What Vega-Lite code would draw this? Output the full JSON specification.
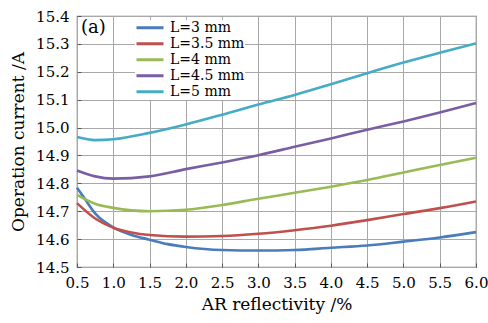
{
  "$schema": "https://vega.github.io/schema/vega-lite/v6.json",
  "width": 399,
  "height": 251,
  "autosize": {"type": "none"},
  "padding": {"left": 77, "top": 16, "right": 12, "bottom": 56},
  "background": "white",
  "config": {
    "view": {"stroke": "#7a7a7a", "strokeWidth": 1.2},
    "font": "DejaVu Serif",
    "axis": {
      "domain": false,
      "grid": true,
      "gridColor": "#a8a8a8",
      "gridWidth": 1,
      "tickColor": "#555555",
      "tickSize": -4,
      "tickCount": 30,
      "labelOverlap": false,
      "labelFlush": false,
      "labelFont": "DejaVu Serif",
      "labelFontSize": 15,
      "labelColor": "#000000",
      "titleFont": "DejaVu Serif",
      "titleFontSize": 17,
      "titleFontWeight": "normal",
      "titleColor": "#000000"
    },
    "legend": {
      "labelFont": "DejaVu Serif",
      "labelFontSize": 14,
      "labelColor": "#000000"
    }
  },
  "datasets": {
    "curves": [
      {"r": 0.5, "I": 14.784, "L": "L=3 mm"},
      {"r": 0.6, "I": 14.747, "L": "L=3 mm"},
      {"r": 0.75, "I": 14.692, "L": "L=3 mm"},
      {"r": 1.0, "I": 14.642, "L": "L=3 mm"},
      {"r": 1.25, "I": 14.615, "L": "L=3 mm"},
      {"r": 1.5, "I": 14.598, "L": "L=3 mm"},
      {"r": 1.75, "I": 14.582, "L": "L=3 mm"},
      {"r": 2.0, "I": 14.572, "L": "L=3 mm"},
      {"r": 2.5, "I": 14.561, "L": "L=3 mm"},
      {"r": 3.0, "I": 14.559, "L": "L=3 mm"},
      {"r": 3.5, "I": 14.561, "L": "L=3 mm"},
      {"r": 4.0, "I": 14.569, "L": "L=3 mm"},
      {"r": 4.5, "I": 14.577, "L": "L=3 mm"},
      {"r": 5.0, "I": 14.591, "L": "L=3 mm"},
      {"r": 5.5, "I": 14.606, "L": "L=3 mm"},
      {"r": 6.0, "I": 14.625, "L": "L=3 mm"},

      {"r": 0.5, "I": 14.729, "L": "L=3.5 mm"},
      {"r": 0.75, "I": 14.674, "L": "L=3.5 mm"},
      {"r": 1.0, "I": 14.641, "L": "L=3.5 mm"},
      {"r": 1.25, "I": 14.624, "L": "L=3.5 mm"},
      {"r": 1.5, "I": 14.615, "L": "L=3.5 mm"},
      {"r": 2.0, "I": 14.609, "L": "L=3.5 mm"},
      {"r": 2.5, "I": 14.611, "L": "L=3.5 mm"},
      {"r": 3.0, "I": 14.619, "L": "L=3.5 mm"},
      {"r": 3.5, "I": 14.632, "L": "L=3.5 mm"},
      {"r": 4.0, "I": 14.648, "L": "L=3.5 mm"},
      {"r": 4.5, "I": 14.668, "L": "L=3.5 mm"},
      {"r": 5.0, "I": 14.69, "L": "L=3.5 mm"},
      {"r": 5.5, "I": 14.711, "L": "L=3.5 mm"},
      {"r": 6.0, "I": 14.735, "L": "L=3.5 mm"},

      {"r": 0.5, "I": 14.759, "L": "L=4 mm"},
      {"r": 0.75, "I": 14.727, "L": "L=4 mm"},
      {"r": 1.0, "I": 14.712, "L": "L=4 mm"},
      {"r": 1.25, "I": 14.703, "L": "L=4 mm"},
      {"r": 1.5, "I": 14.7, "L": "L=4 mm"},
      {"r": 2.0, "I": 14.705, "L": "L=4 mm"},
      {"r": 2.5, "I": 14.722, "L": "L=4 mm"},
      {"r": 3.0, "I": 14.745, "L": "L=4 mm"},
      {"r": 3.5, "I": 14.766, "L": "L=4 mm"},
      {"r": 4.0, "I": 14.788, "L": "L=4 mm"},
      {"r": 4.5, "I": 14.812, "L": "L=4 mm"},
      {"r": 5.0, "I": 14.839, "L": "L=4 mm"},
      {"r": 5.5, "I": 14.866, "L": "L=4 mm"},
      {"r": 6.0, "I": 14.892, "L": "L=4 mm"},

      {"r": 0.5, "I": 14.846, "L": "L=4.5 mm"},
      {"r": 0.75, "I": 14.825, "L": "L=4.5 mm"},
      {"r": 1.0, "I": 14.817, "L": "L=4.5 mm"},
      {"r": 1.5, "I": 14.825, "L": "L=4.5 mm"},
      {"r": 2.0, "I": 14.851, "L": "L=4.5 mm"},
      {"r": 2.5, "I": 14.875, "L": "L=4.5 mm"},
      {"r": 3.0, "I": 14.901, "L": "L=4.5 mm"},
      {"r": 3.5, "I": 14.931, "L": "L=4.5 mm"},
      {"r": 4.0, "I": 14.961, "L": "L=4.5 mm"},
      {"r": 4.5, "I": 14.992, "L": "L=4.5 mm"},
      {"r": 5.0, "I": 15.022, "L": "L=4.5 mm"},
      {"r": 5.5, "I": 15.054, "L": "L=4.5 mm"},
      {"r": 6.0, "I": 15.088, "L": "L=4.5 mm"},

      {"r": 0.5, "I": 14.966, "L": "L=5 mm"},
      {"r": 0.75, "I": 14.955, "L": "L=5 mm"},
      {"r": 1.0, "I": 14.958, "L": "L=5 mm"},
      {"r": 1.5, "I": 14.981, "L": "L=5 mm"},
      {"r": 2.0, "I": 15.011, "L": "L=5 mm"},
      {"r": 2.5, "I": 15.046, "L": "L=5 mm"},
      {"r": 3.0, "I": 15.083, "L": "L=5 mm"},
      {"r": 3.5, "I": 15.117, "L": "L=5 mm"},
      {"r": 4.0, "I": 15.155, "L": "L=5 mm"},
      {"r": 4.5, "I": 15.195, "L": "L=5 mm"},
      {"r": 5.0, "I": 15.233, "L": "L=5 mm"},
      {"r": 5.5, "I": 15.268, "L": "L=5 mm"},
      {"r": 6.0, "I": 15.302, "L": "L=5 mm"}
    ],
    "tag": [{"r": 0.5, "I": 15.4, "t": "(a)"}]
  },
  "layer": [
    {
      "data": {"name": "curves"},
      "mark": {"type": "line", "interpolate": "monotone", "strokeWidth": 2.6},
      "encoding": {
        "x": {
          "field": "r", "type": "quantitative",
          "scale": {"domain": [0.5, 6.0], "nice": false, "zero": false},
          "axis": {
            "title": "AR reflectivity /%",
            "values": [0.5, 1.0, 1.5, 2.0, 2.5, 3.0, 3.5, 4.0, 4.5, 5.0, 5.5, 6.0],
            "tickCount": 30,
            "format": ".1f",
            "labelPadding": 12,
            "titlePadding": 6
          }
        },
        "y": {
          "field": "I", "type": "quantitative",
          "scale": {"domain": [14.5, 15.4], "nice": false, "zero": false},
          "axis": {
            "title": "Operation current /A",
            "values": [14.5, 14.6, 14.7, 14.8, 14.9, 15.0, 15.1, 15.2, 15.3, 15.4],
            "tickCount": 30,
            "format": ".1f",
            "labelPadding": 12,
            "titlePadding": 8
          }
        },
        "color": {
          "field": "L", "type": "nominal",
          "scale": {
            "domain": ["L=3 mm", "L=3.5 mm", "L=4 mm", "L=4.5 mm", "L=5 mm"],
            "range": ["#4a7cbb", "#c0504d", "#98bb56", "#7a5ea3", "#45abc6"]
          },
          "legend": {
            "title": null,
            "orient": "none",
            "legendX": 58,
            "legendY": 4,
            "padding": 0,
            "fillColor": "white",
            "symbolType": "stroke",
            "symbolSize": 729,
            "symbolStrokeWidth": 3,
            "clipHeight": 15.6,
            "rowPadding": 0,
            "labelOffset": 5
          }
        }
      }
    },
    {
      "data": {"name": "tag"},
      "mark": {"type": "text", "align": "left", "baseline": "middle", "dx": 4, "dy": 12, "fontSize": 18, "font": "DejaVu Serif", "color": "#000000"},
      "encoding": {
        "x": {"field": "r", "type": "quantitative"},
        "y": {"field": "I", "type": "quantitative"},
        "text": {"field": "t"}
      }
    }
  ]
}
